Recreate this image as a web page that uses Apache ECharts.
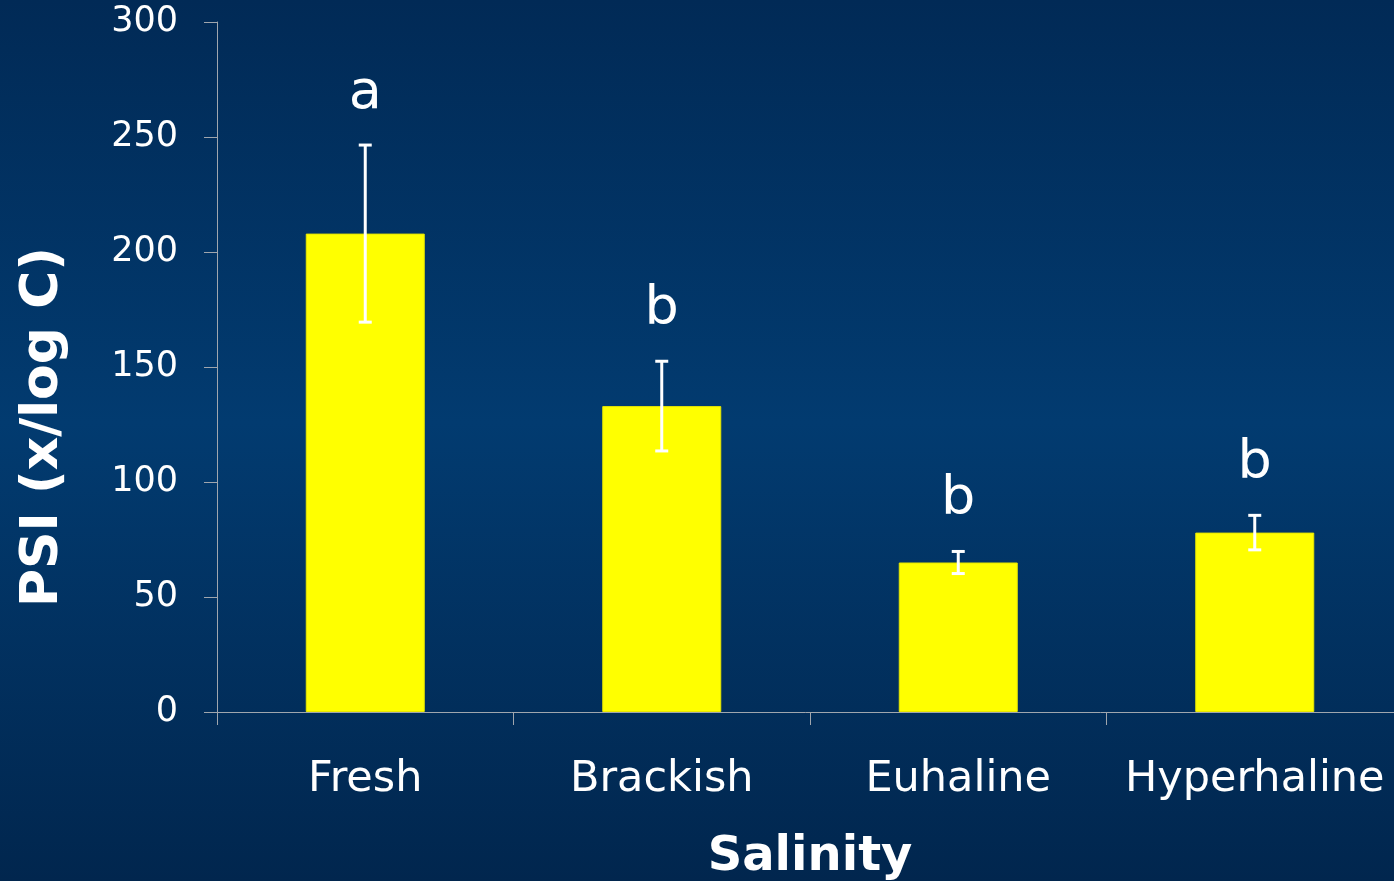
<!DOCTYPE html>
<html>
<head>
<meta charset="utf-8">
<script src="https://cdn.jsdelivr.net/npm/echarts@6/dist/echarts.min.js"></script>
<style>
  html, body { margin: 0; padding: 0; }
  #chart { width: 1394px; height: 881px; }
</style>
</head>
<body>
<div id="chart"></div>
<script>
// PSI by salinity class: means, error bar half-widths, significance letters
const categories = ['Fresh', 'Brackish', 'Euhaline', 'Hyperhaline'];
const psiMean = [208, 133, 65, 78];
const psiError = [38.5, 19.5, 4.8, 7.5];
const groupLetters = ['a', 'b', 'b', 'b'];
const yTicks = { min: 0, max: 300, interval: 50 };

const FONT = '"DejaVu Sans", Verdana, sans-serif';

const chart = echarts.init(document.getElementById('chart'));

const errorData = categories.map((c, i) => [i, psiMean[i] - psiError[i], psiMean[i] + psiError[i]]);

chart.setOption({
  animation: false,
  backgroundColor: {
    type: 'linear', x: 0, y: 0, x2: 0, y2: 1,
    colorStops: [
      { offset: 0, color: '#012a56' },
      { offset: 0.48, color: '#023b70' },
      { offset: 1, color: '#01264e' }
    ]
  },
  grid: { left: 217, top: 22, right: -9, bottom: 169, containLabel: false, outerBoundsMode: 'none' },
  xAxis: {
    type: 'category',
    data: categories,
    name: 'Salinity',
    nameLocation: 'middle',
    nameGap: 122,
    nameTextStyle: { color: '#ffffff', fontFamily: FONT, fontWeight: 'bold', fontSize: 48 },
    axisLine: { lineStyle: { color: '#a0a6ae', width: 1 } },
    axisTick: { show: true, interval: 0, alignWithLabel: false, length: 13, lineStyle: { color: '#a0a6ae' } },
    axisLabel: { interval: 0, color: '#ffffff', fontFamily: FONT, fontSize: 43, margin: 46 }
  },
  yAxis: {
    type: 'value',
    min: yTicks.min, max: yTicks.max, interval: yTicks.interval,
    splitLine: { show: false },
    axisLine: { show: true, lineStyle: { color: '#a0a6ae', width: 1 } },
    axisTick: { show: true, length: 13, lineStyle: { color: '#a0a6ae' } },
    axisLabel: { color: '#ffffff', fontFamily: FONT, fontSize: 35, margin: 39 }
  },
  graphic: [{
    type: 'text',
    x: 43, y: 427,
    rotation: Math.PI / 2,
    style: {
      text: 'PSI (x/log C)',
      fill: '#ffffff',
      font: 'bold 52px ' + FONT,
      align: 'center',
      verticalAlign: 'middle'
    }
  }],
  series: [
    {
      type: 'bar',
      data: psiMean,
      barWidth: 119,
      itemStyle: { color: '#ffff00', borderColor: '#e6e600', borderWidth: 1 }
    },
    {
      type: 'custom',
      data: errorData,
      z: 10,
      renderItem: function (params, api) {
        const lo = api.coord([api.value(0), api.value(1)]);
        const hi = api.coord([api.value(0), api.value(2)]);
        const x = lo[0];
        const cap = 6.5;
        const line = { stroke: '#ffffff', lineWidth: 3 };
        return {
          type: 'group',
          children: [
            { type: 'line', shape: { x1: x, y1: lo[1], x2: x, y2: hi[1] }, style: line },
            { type: 'line', shape: { x1: x - cap, y1: lo[1], x2: x + cap, y2: lo[1] }, style: line },
            { type: 'line', shape: { x1: x - cap, y1: hi[1], x2: x + cap, y2: hi[1] }, style: line },
            {
              type: 'text',
              x: x, y: hi[1] - 24,
              style: {
                text: groupLetters[params.dataIndex],
                fill: '#ffffff',
                font: '54px ' + FONT,
                align: 'center',
                verticalAlign: 'bottom'
              }
            }
          ]
        };
      }
    }
  ]
});
</script>
</body>
</html>
